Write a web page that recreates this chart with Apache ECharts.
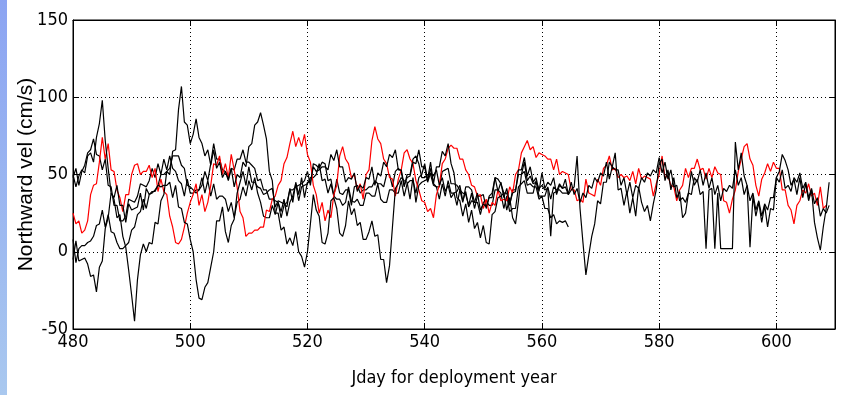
<!DOCTYPE html>
<html>
<head>
<meta charset="utf-8">
<title>Northward vel</title>
<script src="https://cdn.jsdelivr.net/npm/echarts@6/dist/echarts.min.js"></script>
<style>
	html, body { margin: 0; padding: 0; background: #fff; }
	#main { width: 842px; height: 395px; }
</style>
</head>
<body>
<div id="main"></div>
<script>
	// samples every half day, starting at jday 480
	const t0 = 480
	const dt = 0.5

	const xTicks = [480, 500, 520, 540, 560, 580, 600]
	const yTicks = [-50, 0, 50, 100, 150]

	// black, the one with the big swings (480 - 609)
	const velA = [
		50, 42, 49, 53, 51, 62, 64, 58, 74, 83,
		98, 72, 54, 38, 34, 22, 24, 10, 3, -12,
		-28, -45, -18, -2, 5, 0, 6, 5, 19, 18,
		33, 37, 52, 50, 65, 66, 92, 107, 84, 82,
		70, 76, 86, 74, 70, 62, 66, 56, 66, 54,
		58, 48, 52, 47, 54, 42, 50, 48, 58, 55,
		68, 70, 82, 84, 90, 82, 73, 52, 46, 25,
		25, 14, 16, 5, 9, 4, 13, 0, -3, -10,
		0, 18, 37, 27, 23, 6, 5, 12, 33, 35,
		28, 12, 10, 17, 33, 24, 28, 17, 19, 8,
		8, 13, 20, 10, 11, -5, -5, -20, -9, 16,
		41, 44, 48, 46, 45, 34, 48, 32, 43, 45,
		46, 47, 58, 44, 55, 55, 65, 62, 70, 57,
		51, 35, 33, 23, 31, 19, 27, 15, 19, 9,
		17, 6, 5, 24, 26, 35, 36, 38, 27, 35,
		22, 18, 33, 50, 58, 46, 49, 44, 45, 41,
		43, 40, 41, 10, 38, 39, 44, 41, 42, 37,
		40, 42, 62, 28, 6, -15, -2, 10, 18, 33,
		31, 45, 45, 58, 55, 64, 40, 41, 30, 39,
		25, 35, 23, 42, 32, 26, 30, 20, 31, 40,
		57, 60, 46, 53, 40, 48, 35, 39, 22, 25,
		38, 52, 43, 47, 37, 39, 2, 40, 41, 2,
		38, 2, 2, 2, 2, 2, 71, 53, 64, 49,
		43, 3, 36, 23, 32, 19, 30, 16, 28, 27,
		48, 52, 63, 59, 53, 43, 47, 37, 48, 35,
		44, 33, 40, 19, 9, 1, 16, 28, 45
	]

	// black (480 - 609)
	const velB = [
		-5, 7, -6, -5, -4, -8, -16, -15, -26, -10,
		-6, 15, 22, 38, 35, 43, 30, 30, 19, 31,
		27, 28, 29, 38, 27, 41, 37, 39, 39, 43,
		42, 43, 43, 45, 35, 43, 29, 28, 19, 18,
		8, 0, -18, -30, -31, -23, -20, -10, 0, 20,
		20, 29, 13, 6, 17, 21, 38, 45, 52, 43,
		55, 45, 45, 42, 41, 37, 38, 40, 41, 29,
		33, 32, 31, 29, 41, 32, 45, 37, 48, 35,
		45, 45, 55, 52, 53, 55, 55, 53, 63, 59,
		66, 55, 55, 45, 48, 47, 51, 39, 43, 41,
		48, 47, 55, 43, 51, 49, 58, 55, 63, 61,
		66, 53, 53, 43, 48, 49, 58, 57, 66, 55,
		55, 45, 51, 49, 53, 43, 48, 39, 43, 35,
		38, 39, 43, 33, 39, 29, 33, 32, 38, 27,
		31, 29, 35, 35, 48, 39, 45, 35, 41, 31,
		38, 39, 53, 53, 61, 49, 55, 45, 48, 39,
		51, 41, 45, 43, 48, 37, 43, 41, 47, 37,
		45, 37, 41, 32, 38, 35, 43, 41, 48, 45,
		51, 49, 58, 47, 55, 53, 53, 43, 48, 37,
		45, 35, 43, 41, 48, 45, 51, 49, 53, 51,
		61, 51, 58, 47, 53, 42, 43, 33, 35, 32,
		38, 37, 48, 45, 53, 43, 51, 41, 48, 37,
		43, 33, 41, 39, 43, 41, 53, 43, 48, 37,
		43, 33, 38, 27, 33, 23, 31, 27, 35, 35,
		48, 45, 53, 41, 43, 39, 48, 45, 51, 41,
		45, 35, 41, 31, 35, 23, 28, 25, 30
	]

	// black, stops at 564.5
	const velC = [
		48, 54, 43, 52, 56, 64, 66, 73, 63, 62,
		53, 60, 43, 42, 30, 30, 20, 20, 23, 34,
		33, 32, 36, 44, 43, 42, 46, 54, 48, 57,
		50, 60, 53, 62, 54, 52, 46, 44, 36, 47,
		38, 38, 40, 40, 43, 52, 46, 57, 70, 60,
		60, 53, 52, 46, 54, 53, 60, 60, 66, 58,
		58, 56, 54, 46, 47, 40, 40, 34, 34, 33,
		32, 26, 34, 23, 32, 36, 44, 33, 42, 43,
		44, 48, 48, 50, 57, 46, 47, 38, 44, 36,
		47, 38, 37, 40, 40, 30, 42, 43, 38, 40,
		40, 42, 42, 46, 44, 44, 42, 50, 50, 42,
		52, 54, 52, 42, 50, 50, 60, 62, 57, 48,
		48, 50, 50, 43, 42, 42, 52, 53, 54, 44,
		44, 43, 40, 38, 37, 30, 38, 28, 36, 36,
		37, 28, 36, 38, 48, 47, 44, 38, 38, 30,
		40, 40, 50, 50, 52, 43, 44, 42, 42, 34,
		36, 28, 28, 22, 24, 18, 20, 19, 20, 16
	]

	// black, stops at 564.5
	const velD = [
		8, -7, 2, 4, 4, 6, 7, 10, 17, 18,
		27, 16, 24, 13, 12, 6, 2, 2, 4, 6,
		14, 16, 24, 26, 34, 28, 37, 38, 40, 43,
		50, 50, 52, 54, 62, 62, 62, 56, 54, 43,
		42, 40, 38, 40, 48, 38, 46, 36, 44, 34,
		36, 36, 34, 26, 32, 22, 32, 34, 42, 36,
		46, 40, 48, 38, 32, 23, 22, 22, 30, 24,
		32, 22, 30, 32, 40, 40, 42, 43, 44, 46,
		52, 43, 57, 56, 54, 58, 57, 46, 47, 36,
		34, 34, 30, 32, 42, 33, 32, 34, 30, 30,
		38, 38, 36, 36, 44, 34, 32, 32, 40, 40,
		38, 38, 46, 36, 44, 46, 46, 38, 48, 50,
		57, 46, 54, 44, 42, 34, 44, 36, 46, 38,
		38, 30, 40, 32, 42, 42, 40, 32, 32, 24,
		32, 33, 30, 30, 40, 40, 38, 28, 36, 26,
		28, 28, 42, 44, 46, 38, 38, 38, 46, 36,
		36, 36, 42, 34, 42, 40, 40, 38, 38, 38
	]

	// red (480 - 608.5)
	const velRed = [
		25, 18, 20, 12, 14, 20, 37, 43, 44, 58,
		74, 60, 70, 53, 52, 40, 35, 26, 37, 37,
		50, 56, 57, 50, 52, 52, 56, 48, 54, 39,
		47, 39, 37, 23, 16, 6, 5, 8, 16, 25,
		32, 37, 44, 30, 37, 26, 32, 43, 57, 56,
		62, 50, 57, 48, 63, 53, 42, 26, 22, 10,
		12, 12, 14, 14, 16, 16, 27, 26, 34, 36,
		43, 46, 57, 61, 70, 78, 68, 74, 68, 76,
		63, 58, 43, 37, 25, 32, 20, 27, 22, 37,
		43, 62, 68, 60, 57, 48, 50, 40, 44, 34,
		50, 53, 72, 81, 73, 70, 60, 57, 48, 47,
		36, 47, 53, 64, 66, 60, 57, 46, 40, 33,
		32, 26, 28, 22, 37, 43, 57, 60, 67, 69,
		67, 67, 60, 60, 53, 50, 43, 42, 36, 37,
		28, 34, 25, 32, 30, 40, 33, 34, 33, 42,
		38, 50, 53, 64, 68, 72, 66, 68, 61, 64,
		63, 62, 60, 60, 53, 60, 50, 52, 51, 50,
		40, 40, 33, 34, 32, 47, 38, 37, 36, 47,
		43, 54, 56, 62, 53, 54, 48, 50, 48, 49,
		46, 52, 44, 54, 47, 49, 48, 47, 36, 44,
		50, 62, 48, 49, 43, 42, 33, 40, 43, 54,
		48, 54, 54, 60, 53, 54, 47, 54, 48, 55,
		51, 50, 33, 32, 25, 34, 40, 52, 60, 68,
		70, 60, 56, 43, 36, 47, 51, 57, 52, 58,
		54, 54, 40, 40, 30, 27, 18, 30, 33, 40,
		38, 44, 36, 38, 30, 42, 28, 30
	]

	function pairs(vals) {
		return vals.map((v, i) => [t0 + i * dt, v])
	}

	const labelFont = "'Liberation Sans Narrow', 'DejaVu Sans Condensed', 'Arial Narrow', sans-serif"

	function lineSeries(vals, color) {
		return {
			type: 'line',
			data: pairs(vals),
			showSymbol: false,
			symbol: 'none',
			silent: true,
			lineStyle: { color: color, width: 1.2 },
			xAxisIndex: 0,
			yAxisIndex: 0
		}
	}

	const inTick = { show: true, inside: true, length: 6, lineStyle: { color: '#000', width: 1 } }
	const dotted = { show: true, lineStyle: { color: '#000', width: 1, type: [1, 3] } }

	let option = {
		animation: false,
		backgroundColor: '#fff',
		graphic: [{
			// blue strip on the left edge
			type: 'rect',
			left: 0, top: 0,
			shape: { width: 7, height: 395 },
			style: {
				fill: new echarts.graphic.LinearGradient(0, 0, 0, 1, [
					{ offset: 0, color: '#8ca4f2' },
					{ offset: 1, color: '#a9c8ef' }
				])
			}
		}],
		grid: {
			left: 73, right: 7, top: 20, bottom: 66,
			show: true, borderColor: '#000', borderWidth: 1, backgroundColor: '#fff'
		},
		xAxis: [{
			type: 'value',
			min: 480, max: 610, interval: 20,
			axisLine: { show: true, onZero: false, lineStyle: { color: '#000' } },
			axisTick: inTick,
			axisLabel: {
				color: '#000', fontSize: 18, fontFamily: labelFont, margin: 4,
				showMaxLabel: false,
				formatter: v => xTicks.indexOf(v) >= 0 ? String(v) : ''
			},
			splitLine: dotted,
			name: 'Jday for deployment year',
			nameLocation: 'middle',
			nameGap: 40,
			nameMoveOverlap: false,
			nameTextStyle: { color: '#000', fontSize: 18, fontFamily: labelFont }
		}, {
			type: 'value',
			position: 'top',
			min: 480, max: 610, interval: 20,
			axisLine: { show: true, onZero: false, lineStyle: { color: '#000' } },
			axisTick: inTick,
			axisLabel: { show: false },
			splitLine: { show: false }
		}],
		yAxis: [{
			type: 'value',
			min: -50, max: 150, interval: 50,
			axisLine: { show: true, onZero: false, lineStyle: { color: '#000' } },
			axisTick: inTick,
			axisLabel: {
				color: '#000', fontSize: 18, fontFamily: labelFont, margin: 5,
				formatter: v => yTicks.indexOf(v) >= 0 ? String(v) : ''
			},
			splitLine: dotted,
			name: 'Northward vel (cm/s)',
			nameLocation: 'middle',
			nameGap: 36,
			nameRotate: 90,
			nameMoveOverlap: false,
			nameTextStyle: { color: '#000', fontSize: 21, fontFamily: "'Liberation Sans', Arial, sans-serif" }
		}, {
			type: 'value',
			position: 'right',
			min: -50, max: 150, interval: 50,
			axisLine: { show: true, onZero: false, lineStyle: { color: '#000' } },
			axisTick: inTick,
			axisLabel: { show: false },
			splitLine: { show: false }
		}],
		series: [
			lineSeries(velC, '#000'),
			lineSeries(velD, '#000'),
			lineSeries(velRed, '#ff0000'),
			lineSeries(velA, '#000'),
			lineSeries(velB, '#000')
		]
	}

	let myChart = echarts.init(document.getElementById('main'))
	myChart.setOption(option)
</script>
</body>
</html>
